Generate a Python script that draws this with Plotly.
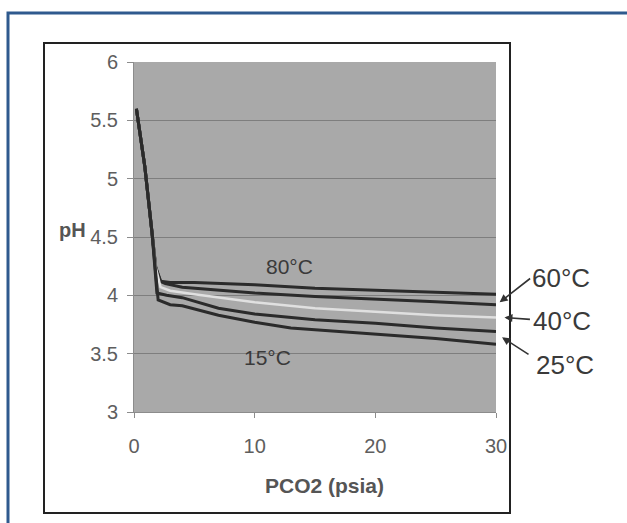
import plotly.graph_objects as go

# ---- data ----
pco2_80 = [0.2, 0.9, 1.5, 1.8, 2.2, 3, 5, 8, 10, 15, 20, 25, 30]
ph_80   = [5.6, 5.1, 4.53, 4.24, 4.12, 4.11, 4.11, 4.10, 4.09, 4.06, 4.045, 4.025, 4.01]

pco2_60 = [0.2, 0.9, 1.5, 1.8, 2.2, 2.6, 4, 8, 10, 15, 20, 25, 30]
ph_60   = [5.6, 5.1, 4.53, 4.24, 4.12, 4.10, 4.07, 4.04, 4.02, 3.99, 3.97, 3.945, 3.92]

pco2_40 = [0.2, 0.9, 1.5, 1.8, 2.2, 3, 5, 10, 15, 20, 25, 30]
ph_40   = [5.6, 5.1, 4.53, 4.24, 4.07, 4.04, 4.01, 3.94, 3.89, 3.86, 3.83, 3.81]

pco2_25 = [0.2, 0.9, 1.5, 1.9, 2.7, 4, 7, 10, 15, 20, 25, 30]
ph_25   = [5.6, 5.1, 4.53, 4.02, 4.0, 3.98, 3.89, 3.84, 3.79, 3.76, 3.72, 3.69]

pco2_15 = [0.2, 0.9, 1.5, 2.0, 3, 4, 7, 10, 13, 20, 25, 30]
ph_15   = [5.6, 5.1, 4.53, 3.96, 3.92, 3.91, 3.83, 3.77, 3.72, 3.67, 3.63, 3.58]

series = [
    ("80°C", pco2_80, ph_80, "#2b2b2b", 3),
    ("60°C", pco2_60, ph_60, "#2b2b2b", 3),
    ("40°C", pco2_40, ph_40, "#e0e0e0", 2.5),
    ("25°C", pco2_25, ph_25, "#2b2b2b", 3),
    ("15°C", pco2_15, ph_15, "#2b2b2b", 3),
]

x_ticks = [0, 10, 20, 30]
y_ticks = [3, 3.5, 4, 4.5, 5, 5.5, 6]
y_tick_text = ["3", "3.5", "4", "4.5", "5", "5.5", "6"]
X_RANGE = [0, 30]
Y_RANGE = [3, 6]

W, H = 627, 523
L, R, T, B = 134, 496, 62, 412   # plot area in pixels

def px(xp):
    return (xp - L) / (R - L)

def py(yp):
    return (B - yp) / (B - T)

def dx(x):   # data x -> paper
    return (x - X_RANGE[0]) / (X_RANGE[1] - X_RANGE[0])

def dy(y):   # data y -> paper
    return (y - Y_RANGE[0]) / (Y_RANGE[1] - Y_RANGE[0])

fig = go.Figure()
for name, xs, ys, col, w in series:
    fig.add_trace(go.Scatter(x=xs, y=ys, mode="lines", name=name,
                             line=dict(color=col, width=w), showlegend=False))

font_fam = "Arial, Liberation Sans, DejaVu Sans, sans-serif"

fig.update_layout(
    width=W, height=H,
    margin=dict(l=L, r=W - R, t=T, b=H - B, pad=0),
    paper_bgcolor="white",
    plot_bgcolor="#a9a9a9",
    showlegend=False,
    xaxis=dict(range=X_RANGE, tickvals=x_ticks, showgrid=False, zeroline=False,
               showline=True, linecolor="#8c8c8c", linewidth=1,
               ticks="outside", ticklen=5, tickcolor="#8c8c8c",
               ticklabelstandoff=11,
               tickfont=dict(family=font_fam, size=20, color="#5e5e5e")),
    yaxis=dict(range=Y_RANGE, tickvals=y_ticks, ticktext=y_tick_text,
               showgrid=True, gridcolor="#7e7e7e", gridwidth=1, zeroline=False,
               showline=True, linecolor="#8c8c8c", linewidth=1,
               ticks="outside", ticklen=6, tickcolor="#8c8c8c",
               ticklabelstandoff=5,
               tickfont=dict(family=font_fam, size=20, color="#5e5e5e")),
    shapes=[
        dict(type="rect", xref="paper", yref="paper",
             x0=px(8), x1=px(640), y0=py(540), y1=py(13),
             line=dict(color="#2f5a8e", width=3), fillcolor="rgba(0,0,0,0)", layer="above"),
        dict(type="rect", xref="paper", yref="paper",
             x0=px(44), x1=px(510), y0=py(513), y1=py(43),
             line=dict(color="#222222", width=2), fillcolor="rgba(0,0,0,0)", layer="above"),
    ],
)

ann = []
# axis titles
ann.append(dict(text="<b>PCO2 (psia)</b>", xref="paper", yref="paper", x=px(324), y=py(485),
                xanchor="center", yanchor="middle",
                showarrow=False, font=dict(family=font_fam, size=21, color="#555555")))
ann.append(dict(text="<b>pH</b>", xref="paper", yref="paper", x=px(72), y=py(230),
                xanchor="center", yanchor="middle",
                showarrow=False, font=dict(family=font_fam, size=20, color="#555555")))
# curve labels
lab_font = dict(family=font_fam, size=21, color="#3a3a3a")
big_font = dict(family=font_fam, size=26, color="#3a3a3a")
labels = [
    ("80°C", 12.9, 4.25, lab_font),
    ("15°C", 11.1, 3.47, lab_font),
    ("60°C", 35.4, 4.15, big_font),
    ("40°C", 35.5, 3.78, big_font),
    ("25°C", 35.7, 3.40, big_font),
]
for t, x, y, f in labels:
    ann.append(dict(text=t, xref="paper", yref="paper", x=dx(x), y=dy(y),
                    xanchor="center", yanchor="middle", showarrow=False, font=f))
# arrows (tip in data units, tail offset in pixels)
arrows = [(30.3, 3.94, 32, -25), (30.7, 3.81, 27, 2), (30.5, 3.64, 28, 18)]
for x, y, ax, ay in arrows:
    ann.append(dict(text="", xref="paper", yref="paper", x=dx(x), y=dy(y), ax=ax, ay=ay,
                    axref="pixel", ayref="pixel", showarrow=True, arrowhead=2,
                    arrowsize=1, arrowwidth=1.6, arrowcolor="#333333"))

fig.update_layout(annotations=ann)

fig.write_html("out.html")
